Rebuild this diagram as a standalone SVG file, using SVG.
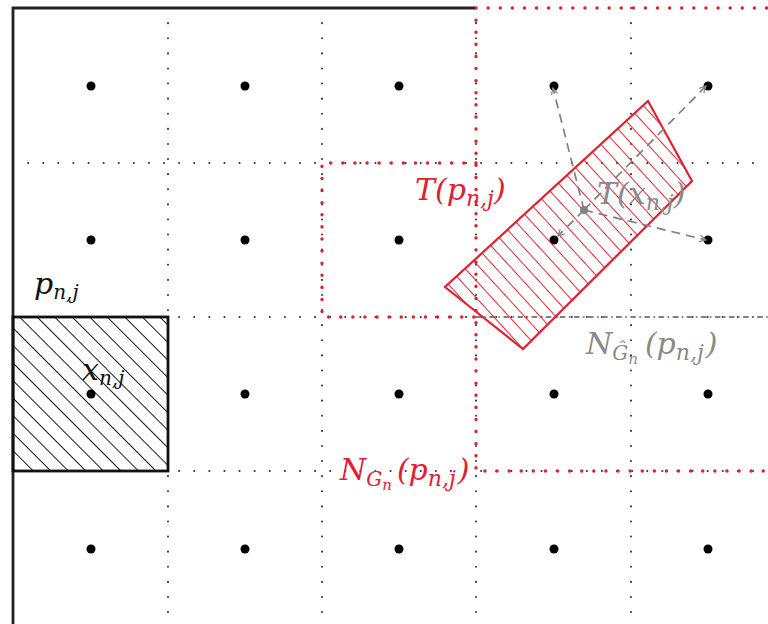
<svg xmlns="http://www.w3.org/2000/svg" width="768" height="624" viewBox="0 0 768 624">
<style>
.grid{stroke:#333;stroke-width:2;stroke-linecap:round;stroke-dasharray:0.1 15;fill:none}
.reddot{stroke:#e0202e;stroke-width:3.4;stroke-linecap:round;stroke-dasharray:0.1 12;fill:none}
.graydot{stroke:#808080;stroke-width:2;stroke-linecap:round;stroke-dasharray:4 5 0.1 5;fill:none}
.frame{stroke:#222;stroke-width:2.8;fill:none}
.pt{fill:#000}
.lbl{font-family:"DejaVu Serif","Liberation Serif",serif;font-style:italic;font-size:30px}
.red{fill:#e0202e}
.gray{fill:#8a8a8a}
.blk{fill:#111}
.arrow{stroke:#808080;stroke-width:1.7;stroke-dasharray:9 6;fill:none;marker-end:url(#ah)}
</style>
<defs>
<pattern id="hatchB" patternUnits="userSpaceOnUse" width="12.4" height="12.4" patternTransform="rotate(-45)">
<line x1="0" y1="-1" x2="0" y2="14" stroke="#111" stroke-width="1.9"/>
</pattern>
<pattern id="hatchR" patternUnits="userSpaceOnUse" width="11.5" height="11.5" patternTransform="rotate(-42.5)">
<line x1="0" y1="-1" x2="0" y2="13" stroke="#e0202e" stroke-width="1.9"/>
</pattern>
<marker id="ah" viewBox="0 0 10 10" refX="9" refY="5" markerWidth="8" markerHeight="8" orient="auto" markerUnits="userSpaceOnUse">
<path d="M1,1 L9,5 L1,9" fill="none" stroke="#808080" stroke-width="1.5"/>
</marker>
</defs>
<rect width="768" height="624" fill="#fff"/>
<g id="grid">
<path class="grid" d="M168,8 V624 M322,8 V624 M476,8 V624 M631,8 V624 M13,163 H768 M13,317 H768 M13,471 H768"/>
</g>
<g id="frame">
<path class="frame" d="M13,624 V8 H476"/>
</g>
<g id="points">
<circle class="pt" cx="91" cy="86" r="4.5"/><circle class="pt" cx="245" cy="86" r="4.5"/><circle class="pt" cx="399" cy="86" r="4.5"/><circle class="pt" cx="554" cy="86" r="4.5"/><circle class="pt" cx="708" cy="86" r="4.5"/>
<circle class="pt" cx="91" cy="240" r="4.5"/><circle class="pt" cx="245" cy="240" r="4.5"/><circle class="pt" cx="399" cy="240" r="4.5"/><circle class="pt" cx="554" cy="240" r="4.5"/><circle class="pt" cx="708" cy="240" r="4.5"/>
<circle class="pt" cx="245" cy="394" r="4.5"/><circle class="pt" cx="399" cy="394" r="4.5"/><circle class="pt" cx="554" cy="394" r="4.5"/><circle class="pt" cx="708" cy="394" r="4.5"/>
<circle class="pt" cx="91" cy="549" r="4.5"/><circle class="pt" cx="245" cy="549" r="4.5"/><circle class="pt" cx="399" cy="549" r="4.5"/><circle class="pt" cx="554" cy="549" r="4.5"/><circle class="pt" cx="708" cy="549" r="4.5"/>
</g>
<g id="N-hat-region">
<path class="graydot" d="M476,317 H768"/>
</g>
<g id="N-region">
<path class="reddot" d="M476,8 H768 M476,8 V471 H768"/>
</g>
<g id="T-region">
<path class="reddot" d="M476,163 H322 V317 H476"/>
</g>
<g id="square-x">
<rect x="13" y="317" width="155" height="154" fill="url(#hatchB)" stroke="#111" stroke-width="2.8"/>
<circle class="pt" cx="91" cy="394" r="4.5"/>
</g>
<g id="rot-rect">
<polygon points="648,101 692,181 523,349 445,287" fill="url(#hatchR)" stroke="#e0202e" stroke-width="2.2"/>
</g>
<g id="connectors">
<path class="arrow" d="M584,210 L553,88"/>
<path class="arrow" d="M584,210 L706,86"/>
<path class="arrow" d="M584,210 L706,240"/>
<path class="arrow" d="M584,210 L558,236"/>
<circle cx="584" cy="210" r="4" fill="#808080"/>
</g>
<g id="labels">
<text class="lbl blk" x="34" y="294" font-size="26">p<tspan font-size="20" dy="5">n,j</tspan></text>
<text class="lbl blk" x="82" y="380" font-size="26">x<tspan font-size="20" dy="5">n,j</tspan></text>
<text class="lbl red" x="415" y="200">T(p<tspan font-size="22" dy="6">n,j</tspan><tspan dy="-6">)</tspan></text>
<text class="lbl gray" x="597" y="204">T(x<tspan font-size="22" dy="6">n,j</tspan><tspan dy="-6">)</tspan></text>
<text class="lbl gray" x="586" y="354">N<tspan font-size="20" dy="6">Ĝ</tspan><tspan font-size="15" dy="4">n</tspan><tspan dx="7" dy="-10">(p</tspan><tspan font-size="22" dy="6">n,j</tspan><tspan dx="2" dy="-6">)</tspan></text>
<text class="lbl red" x="340" y="480">N<tspan font-size="20" dy="6">G</tspan><tspan font-size="15" dy="4">n</tspan><tspan dx="5" dy="-10">(p</tspan><tspan font-size="22" dy="6">n,j</tspan><tspan dx="2" dy="-6">)</tspan></text>
</g>
</svg>
